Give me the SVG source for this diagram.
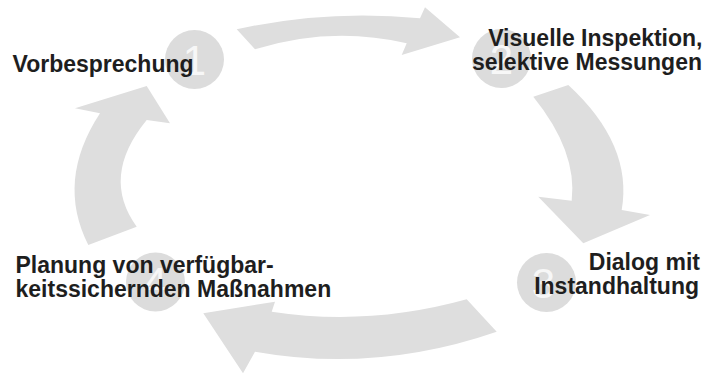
<svg xmlns="http://www.w3.org/2000/svg" width="708" height="374" viewBox="0 0 708 374">
<style>
.arrow{fill:#dedede;stroke:none}
.badge circle{fill:#dcdcdc}
.num{font-family:"Liberation Sans",Arial,sans-serif;font-size:42px;font-weight:normal;fill:#f7f7f7;text-anchor:middle}
.lbl{font-family:"Liberation Sans",Arial,sans-serif;font-size:23px;font-weight:bold;fill:#1e1e1e}
</style>
<rect width="708" height="374" fill="#ffffff"/>
<g id="connectors">
<path class="arrow" d="M236.7,29.3 Q327.7,9.2 420,18.3 L425,7.3 L460,37.3 L401.7,55 L406.7,43.3 Q331,25.7 255,49.3 Z"/>
<path class="arrow" d="M568.3,85 Q633,144.5 621.7,210 L650,215 L583.3,243.3 L538.3,196.7 L571.7,200.7 Q577.5,151.3 533.3,96.7 Z"/>
<path class="arrow" d="M466.7,299.3 L496.7,331.7 Q376.3,373.3 255,351.7 L243,373.3 L203.3,313.3 L275,301.7 L271.7,311.7 Q368.8,326.5 466.7,299.3 Z"/>
<path class="arrow" d="M88.3,245 Q55.8,180.8 100,113.3 L75,108.3 L146.7,86 L170,123.3 L146.7,120 Q100.3,176.6 136.7,226.7 Z"/>
</g>
<g id="node1" class="badge">
<circle cx="194.5" cy="59.5" r="29.5"/>
<text class="num" x="194.5" y="74.5">1</text>
<text class="lbl" x="12.5" y="72">Vorbesprechung</text>
</g>
<g id="node2" class="badge">
<circle cx="501.5" cy="58.5" r="29.5"/>
<text class="num" x="501.5" y="73.5">2</text>
<text class="lbl" text-anchor="end"><tspan x="702.5" y="46">Visuelle Inspektion,</tspan><tspan x="702" y="70">selektive Messungen</tspan></text>
</g>
<g id="node3" class="badge">
<circle cx="546.5" cy="282.5" r="29.5"/>
<text class="num" x="543.5" y="297.5">3</text>
<text class="lbl" text-anchor="end"><tspan x="700" y="270">Dialog mit</tspan><tspan x="699" y="294">Instandhaltung</tspan></text>
</g>
<g id="node4" class="badge">
<circle cx="155.5" cy="282" r="29.5"/>
<text class="num" x="155.5" y="297">4</text>
<text class="lbl"><tspan x="15.5" y="273">Planung von verfügbar-</tspan><tspan x="15.5" y="297">keitssichernden Maßnahmen</tspan></text>
</g>
</svg>
